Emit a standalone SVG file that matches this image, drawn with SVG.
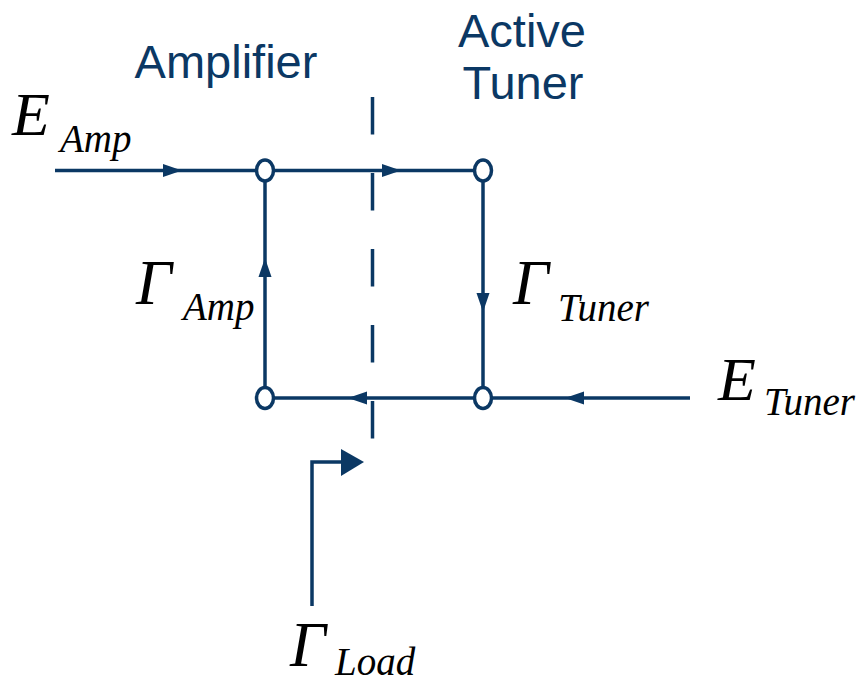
<svg xmlns="http://www.w3.org/2000/svg" width="858" height="684" viewBox="0 0 858 684">
<style>
.ln{stroke:#0b3864;stroke-width:3.5;fill:none}
.dash{stroke:#0b3864;stroke-width:3.5;fill:none;stroke-dasharray:37.5 38.5}
.ah{fill:#0b3864}
.nd{stroke:#0b3864;stroke-width:3.5;fill:#ffffff}
.lbl{font-family:"Liberation Sans",Arial,sans-serif;font-size:47px;fill:#0b3864}
.mt{font-family:"Liberation Serif","Times New Roman",serif;font-style:italic;fill:#000000}
.sub{font-size:39px}
</style>
<rect width="858" height="684" fill="#ffffff"/>
<g id="labels">
<text class="lbl" x="226" y="78" text-anchor="middle">Amplifier</text>
<text class="lbl" x="522" y="47" text-anchor="middle">Active</text>
<text class="lbl" x="523" y="99" text-anchor="middle">Tuner</text>
</g>
<g id="connectors">
<line class="dash" x1="372.5" y1="97" x2="372.5" y2="442"/>
<line class="ln" x1="55" y1="170.5" x2="265" y2="170.5"/>
<line class="ln" x1="265" y1="170.5" x2="483" y2="170.5"/>
<line class="ln" x1="483" y1="170.5" x2="483" y2="398"/>
<line class="ln" x1="265" y1="398" x2="265" y2="170.5"/>
<line class="ln" x1="690" y1="398" x2="265" y2="398"/>
<polyline class="ln" points="312,606 312,462 343,462"/>
<polygon class="ah" points="182,170.5 163,164 163,177"/>
<polygon class="ah" points="401,170.5 382,164 382,177"/>
<polygon class="ah" points="483,312 476.5,293 489.5,293"/>
<polygon class="ah" points="265,258 258.5,277 271.5,277"/>
<polygon class="ah" points="565,398 584,391.5 584,404.5"/>
<polygon class="ah" points="348,398 367,391.5 367,404.5"/>
<polygon class="ah" points="364,462 341,449 341,476"/>
</g>
<g id="node-amp-top"><ellipse class="nd" cx="265" cy="170.5" rx="8.5" ry="10.5"/></g>
<g id="node-amp-bottom"><ellipse class="nd" cx="265" cy="398" rx="8.5" ry="10.5"/></g>
<g id="node-tuner-top"><ellipse class="nd" cx="483" cy="170.5" rx="8.5" ry="10.5"/></g>
<g id="node-tuner-bottom"><ellipse class="nd" cx="483" cy="398" rx="8.5" ry="10.5"/></g>
<g id="math-labels">
<text class="mt" x="12" y="135" font-size="62">E</text>
<text class="mt sub" x="60" y="152">Amp</text>
<text class="mt" x="136" y="304" font-size="63">Γ</text>
<text class="mt sub" x="183" y="320">Amp</text>
<text class="mt" x="513" y="304" font-size="63">Γ</text>
<text class="mt sub" x="558" y="321">Tuner</text>
<text class="mt" x="718" y="400" font-size="62">E</text>
<text class="mt sub" x="764" y="415">Tuner</text>
<text class="mt" x="290" y="666" font-size="63">Γ</text>
<text class="mt sub" x="335" y="675">Load</text>
</g>
</svg>
